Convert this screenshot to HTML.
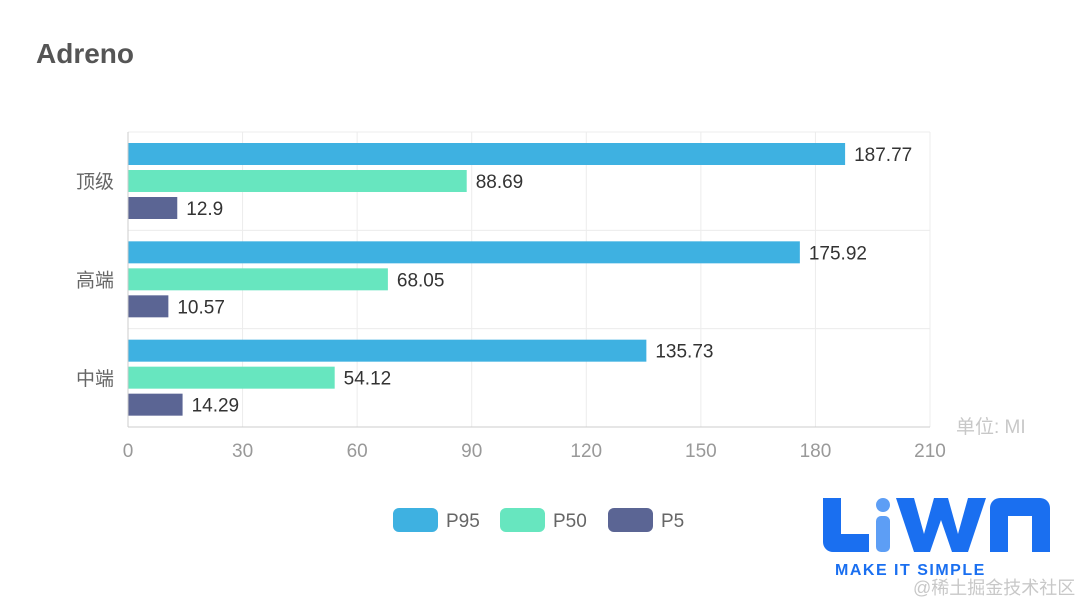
<!DOCTYPE html>
<html><head><meta charset="utf-8"><style>
body{margin:0;background:#fff;width:1080px;height:605px;overflow:hidden;font-family:"Liberation Sans","Noto Sans CJK SC",sans-serif}
svg{display:block}
</style></head><body>
<svg id="c" width="1080" height="605">
<text x="36" y="63" font-size="28" font-weight="bold" fill="#555" font-family="Liberation Sans, sans-serif">Adreno</text>
<g id="grid"></g><g id="bars"></g><g id="axis"></g>
<text x="956" y="433" font-size="19" fill="#c8c8c8">单位: MI</text>
<rect x="1030" y="410" width="50" height="30" fill="#fff"/>
<g font-size="19" fill="#666">
<rect x="393" y="508" width="45" height="24" rx="6" fill="#3eb1e1"/>
<text x="446" y="527" fill="#666">P95</text>
<rect x="500" y="508" width="45" height="24" rx="6" fill="#67e6bf"/>
<text x="553" y="527" fill="#666">P50</text>
<rect x="608" y="508" width="45" height="24" rx="6" fill="#5b6594"/>
<text x="661" y="527" fill="#666">P5</text>
</g>
<g fill="#1a6ff0">
<path d="M823 498h18v36h28v18h-36a10 10 0 0 1-10-10z"/>
<circle cx="883" cy="505" r="7" fill="#5d9ef5"/>
<rect x="876" y="516" width="14" height="36" rx="5" fill="#5d9ef5"/>
<path d="M896 498h18l10 36 10-36h14l10 36 10-36h18l-18 54h-16l-11-32-11 32h-16z"/>
<path d="M990 552v-44a10 10 0 0 1 10-10h40a10 10 0 0 1 10 10v44h-18v-36h-24v36z"/>
<text x="835" y="575" font-size="16" font-weight="bold" fill="#1a6ff0" letter-spacing="1.5">MAKE IT SIMPLE</text>
</g>
<text x="913" y="594" font-size="18" fill="#c8c8c8">@稀土掘金技术社区</text>
</svg>
<script>
const categories=["顶级","高端","中端"];
const seriesNames=["P95","P50","P5"];
const p95=[187.77,175.92,135.73];
const p50=[88.69,68.05,54.12];
const p5=[12.9,10.57,14.29];
const ticks=[0,30,60,90,120,150,180,210];
const colors=["#3eb1e1","#67e6bf","#5b6594"];
const X0=128,X1=930,Y0=132,Y1=427;
const xs=v=>X0+(v-0)/(210-0)*(X1-X0);
const bandH=(Y1-Y0)/categories.length;
const NS="http://www.w3.org/2000/svg";
function mk(t,a,p){const e=document.createElementNS(NS,t);for(const k in a)e.setAttribute(k,a[k]);p.appendChild(e);return e;}
const grid=document.getElementById('grid'),bars=document.getElementById('bars'),axis=document.getElementById('axis');
ticks.forEach(t=>{
 const l=mk('line',{x1:xs(t),x2:xs(t),y1:Y0,y2:Y1,stroke:'#ececec'},grid);
 
 
 const tx=mk('text',{x:xs(t),y:Y1+30,'text-anchor':'middle','font-size':19,fill:'#999'},axis);
 tx.textContent=t;
 
 
});
for(let i=0;i<=categories.length;i++){
 const l=mk('line',{x1:X0,x2:X1,y1:Y0+i*bandH,y2:Y0+i*bandH,stroke:i==categories.length?'#ccc':'#ececec'},grid);
 
 
}
const ax=mk('line',{x1:X0,x2:X0,y1:Y0,y2:Y1,stroke:'#ccc'},axis);


const series=[p95,p50,p5];
categories.forEach((c,i)=>{
 const by=Y0+i*bandH;
 const cl=mk('text',{x:114,y:by+bandH/2+7,'text-anchor':'end','font-size':19,fill:'#666'},axis);
 cl.textContent=c;
 
 
 series.forEach((s,j)=>{
  const y=by+11+j*27;
  const r=mk('rect',{x:X0,y:y,width:xs(s[i])-X0,height:22,fill:colors[j]},bars);
  
  
  const t=mk('text',{x:xs(s[i])+9,y:y+18,'font-size':19,fill:'#333'},bars);
  t.textContent=s[i];
  
  
 });
});
</script>
</body></html>
